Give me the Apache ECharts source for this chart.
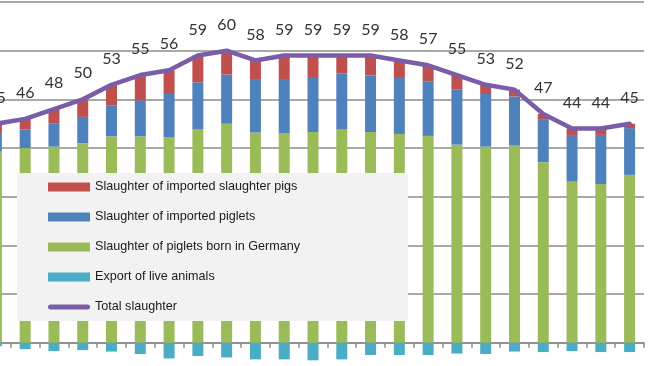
<!DOCTYPE html>
<html>
<head>
<meta charset="utf-8">
<script src="https://cdn.jsdelivr.net/npm/echarts@6/dist/echarts.min.js"></script>
<style>
  html, body { margin: 0; padding: 0; background: #ffffff; }
  #chart { width: 650px; height: 366px; }
</style>
</head>
<body>
<div id="chart"></div>
<script>
// Categories (axis labels are outside the visible crop)
const categories = ['1','2','3','4','5','6','7','8','9','10','11','12','13','14','15','16','17','18','19','20','21','22','23'];

// Series values (million animals)
const bornInGermany   = [39.4, 40.0, 40.3, 41.0, 42.4, 42.4, 42.2, 43.9, 45.0, 43.2, 43.1, 43.3, 43.9, 43.3, 42.9, 42.5, 40.7, 40.3, 40.5, 37.1, 33.1, 32.6, 34.5];
const importedPiglets = [3.7, 3.8, 4.7, 5.4, 6.3, 7.4, 8.9, 9.6, 10.1, 10.8, 10.9, 11.3, 11.4, 11.6, 11.5, 11.2, 11.3, 10.8, 10.1, 8.7, 9.4, 10.1, 9.6];
const importedPigs    = [1.9, 2.2, 3.0, 3.6, 4.3, 5.2, 4.9, 5.5, 4.9, 4.0, 4.7, 4.4, 3.7, 4.1, 3.6, 3.3, 3.0, 1.9, 1.4, 1.2, 1.5, 1.3, 0.9];
const exportLive      = [-0.7, -1.3, -1.7, -1.5, -1.8, -2.3, -3.2, -2.7, -3.0, -3.4, -3.4, -3.6, -3.4, -2.5, -2.5, -2.5, -2.2, -2.3, -1.8, -1.9, -1.7, -1.9, -1.9];
const totalSlaughter  = [45, 46, 48, 50, 53, 55, 56, 59, 60, 58, 59, 59, 59, 59, 58, 57, 55, 53, 52, 47, 44, 44, 45];

// Value axis ticks
const yMin = -10, yMax = 70, yStep = 10;

const names = {
  pigs: 'Slaughter of imported slaughter pigs',
  piglets: 'Slaughter of imported piglets',
  born: 'Slaughter of piglets born in Germany',
  exp: 'Export of live animals',
  total: 'Total slaughter'
};

const chart = echarts.init(document.getElementById('chart'), null, { renderer: 'canvas' });

const barBase = { type: 'bar', stack: 'a', barWidth: 11, z: 2 };

chart.setOption({
  animation: false,
  backgroundColor: '#ffffff',
  grid: { left: -18, right: 6, top: 2, bottom: -25.5, containLabel: false, outerBoundsMode: 'none' },
  xAxis: {
    type: 'category',
    data: categories,
    boundaryGap: true,
    axisLine: { show: true, onZero: true, lineStyle: { color: '#8a8a8a', width: 1.5 } },
    axisTick: { show: true, interval: 0, length: 5, lineStyle: { color: '#8a8a8a', width: 1.5 } },
    axisLabel: { show: false },
    splitLine: { show: false }
  },
  yAxis: {
    type: 'value',
    min: yMin, max: yMax, interval: yStep,
    axisLine: { show: false },
    axisTick: { show: false },
    axisLabel: { show: false },
    splitLine: { show: true, lineStyle: { color: '#8c8c8c', width: 1.5 } }
  },
  legend: {
    orient: 'vertical',
    left: 17, top: 173,
    padding: [7, 108, 7, 31],
    backgroundColor: '#f2f2f2',
    itemWidth: 42, itemHeight: 9, itemGap: 16,
    selectedMode: false,
    textStyle: { fontFamily: 'Liberation Sans, Arial, sans-serif', fontSize: 12.6, color: '#1a1a1a', lineHeight: 14 },
    data: [
      { name: names.pigs, icon: 'rect' },
      { name: names.piglets, icon: 'rect' },
      { name: names.born, icon: 'rect' },
      { name: names.exp, icon: 'rect' },
      { name: names.total, icon: 'path://M2.5,0 H39.5 A2.5,2.5 0 0 1 39.5,5 H2.5 A2.5,2.5 0 0 1 2.5,0 Z' }
    ]
  },
  series: [
    Object.assign({}, barBase, { name: names.born, data: bornInGermany, itemStyle: { color: '#9bbb59' } }),
    Object.assign({}, barBase, { name: names.piglets, data: importedPiglets, itemStyle: { color: '#4f81bd' } }),
    Object.assign({}, barBase, { name: names.pigs, data: importedPigs, itemStyle: { color: '#c0504d' } }),
    Object.assign({}, barBase, { name: names.exp, data: exportLive, itemStyle: { color: '#4bacc6' } }),
    {
      name: names.total,
      type: 'line',
      data: totalSlaughter,
      symbol: 'circle',
      symbolSize: 0.1,
      showSymbol: true,
      z: 3,
      color: '#7b5ca6',
      itemStyle: { color: '#7b5ca6' },
      lineStyle: { color: '#7b5ca6', width: 4.5, cap: 'round', join: 'round' },
      label: {
        show: true,
        position: 'top',
        distance: 18,
        fontFamily: 'Lato, Open Sans, sans-serif',
        fontSize: 16,
        lineHeight: 16,
        color: '#333333'
      },
      labelLayout: { hideOverlap: false }
    }
  ]
});
</script>
</body>
</html>
